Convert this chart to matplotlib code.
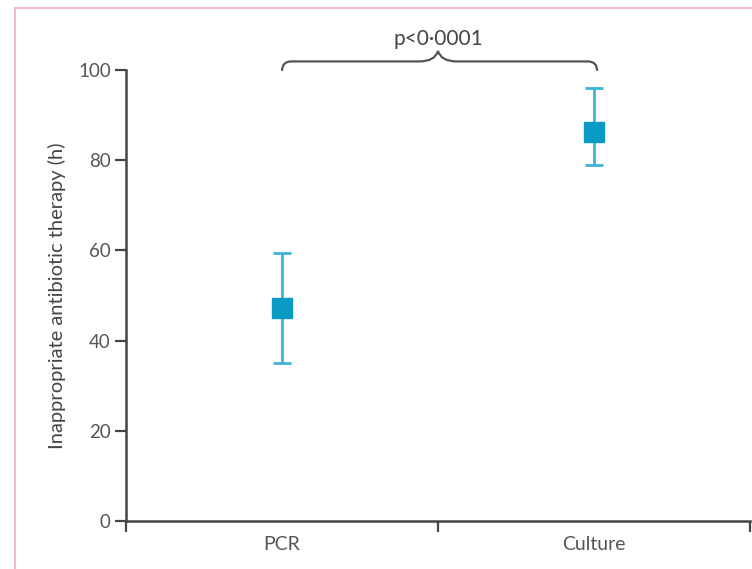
import matplotlib.pyplot as plt
from matplotlib.path import Path
from matplotlib.patches import PathPatch
from matplotlib.lines import Line2D

groups = ["PCR", "Culture"]
means = [47.2, 86.2]
upper = [59.4, 95.9]
lower = [35.0, 78.9]
y_ticks = [0, 20, 40, 60, 80, 100]
p_label = "p<0·0001"

plt.rcParams.update({"font.family": ["Lato", "DejaVu Sans"]})

fig = plt.figure(figsize=(7.52, 5.69), dpi=100)
ax = fig.add_axes([0.1676, 0.0844, 0.8297, 0.7926])

# pink frame (left and top edges)
fig.add_artist(Line2D([15 / 752, 15 / 752], [0, 1 - 8 / 569], transform=fig.transFigure,
                      color="#f2b9cb", linewidth=1.5))
fig.add_artist(Line2D([15 / 752, 1], [1 - 8 / 569, 1 - 8 / 569], transform=fig.transFigure,
                      color="#f2b9cb", linewidth=1.5))

xpos = [0.5, 1.5]
for x, m, hi, lo in zip(xpos, means, upper, lower):
    ax.errorbar([x], [m], yerr=[[m - lo], [hi - m]], fmt="none",
                ecolor="#3cb4d6", elinewidth=2, capsize=6.5, capthick=2, zorder=2)
    ax.plot([x], [m], marker="s", markersize=15, color="#0a9bc4",
            markeredgecolor="#0a9bc4", linestyle="none", zorder=3)

ax.set_xlim(0, 2)
ax.set_ylim(0, 100)
ax.set_xticks([0, 1, 2])
ax.set_xticklabels([])
ax.set_xticks(xpos, minor=True)
ax.set_xticklabels(groups, minor=True)
ax.tick_params(axis="x", which="minor", length=0, pad=11, labelsize=14, labelcolor="#555555")
ax.tick_params(axis="x", which="major", length=8, width=1.6, color="#444444", direction="out")
ax.set_yticks(y_ticks)
ax.tick_params(axis="y", length=8, width=1.6, color="#444444", direction="out",
               labelsize=13.5, labelcolor="#555555", pad=3)
for s in ["top", "right"]:
    ax.spines[s].set_visible(False)
for s in ["left", "bottom"]:
    ax.spines[s].set_color("#444444")
    ax.spines[s].set_linewidth(1.8)

ax.set_ylabel("Inappropriate antibiotic therapy (h)", fontsize=14.5, color="#444444", labelpad=9)

# significance brace
x0, x1, xm = 0.5, 1.51, 1.0
yb, yl, yt = 99.8, 101.9, 104.2
verts = [(x0, yb), (x0, yl), (x0 + 0.03, yl),
         (xm - 0.06, yl), (xm - 0.01, yl), (xm, yt),
         (xm + 0.01, yl), (xm + 0.06, yl),
         (x1 - 0.03, yl), (x1, yl), (x1, yb)]
codes = [Path.MOVETO, Path.CURVE3, Path.CURVE3,
         Path.LINETO, Path.CURVE3, Path.CURVE3,
         Path.CURVE3, Path.CURVE3,
         Path.LINETO, Path.CURVE3, Path.CURVE3]
brace = PathPatch(Path(verts, codes), facecolor="none", edgecolor="#555555",
                  linewidth=1.6, clip_on=False)
ax.add_patch(brace)
ax.text(xm, 106.8, p_label, ha="center", va="center", fontsize=15,
        color="#444444", clip_on=False)

fig.savefig("out.png", dpi=100)
